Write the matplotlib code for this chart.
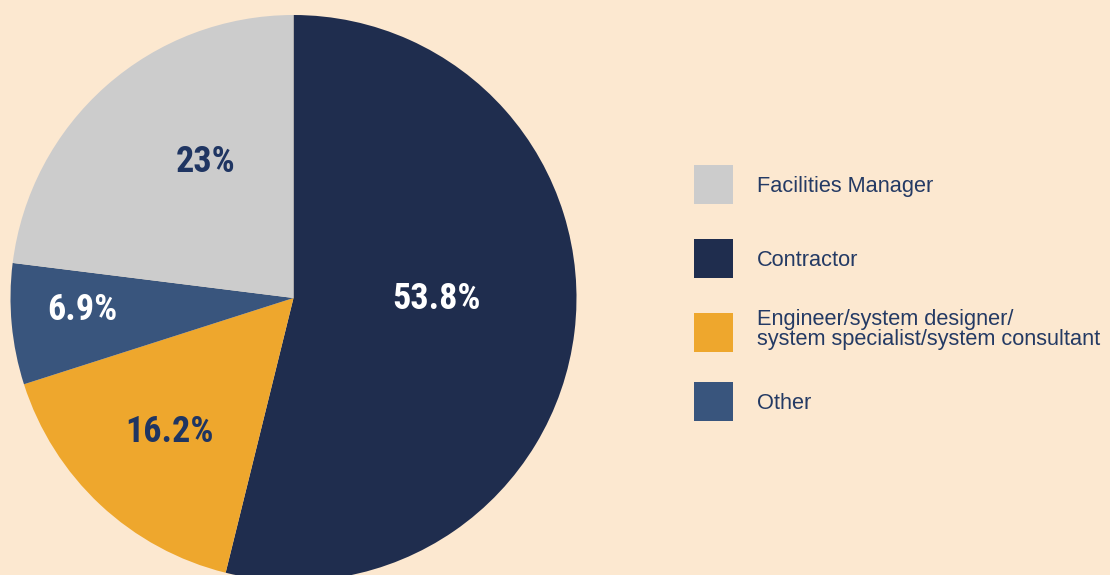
import matplotlib
matplotlib.use("Agg")
import matplotlib.pyplot as plt
from matplotlib.patches import Rectangle

# ---- data ----
pie_labels = ["Contractor", "Engineer/system designer/\nsystem specialist/system consultant", "Other", "Facilities Manager"]
pie_values = [53.8, 16.2, 6.9, 23.0]
pct_text = ["53.8%", "16.2%", "6.9%", "23%"]
legend_order = ["Facilities Manager", "Contractor",
                "Engineer/system designer/\nsystem specialist/system consultant", "Other"]

# ---- styles ----
BG = "#fce8d0"
colors = {"Contractor": "#1f2d4e",
          "Engineer/system designer/\nsystem specialist/system consultant": "#eea72d",
          "Other": "#39557d",
          "Facilities Manager": "#cccccc"}
pct_colors = ["white", "#1f3562", "white", "#1f3562"]
# label positions in units of the radius (layout)
pct_pos = [(0.504, -0.002), (-0.438, -0.475), (-0.745, -0.042), (-0.312, 0.481)]

W, H = 1110, 575
fig = plt.figure(figsize=(W / 100, H / 100), dpi=100, facecolor=BG)
cx, cy, r = 293.5, 298, 283
ax = fig.add_axes([(cx - r) / W, (H - cy - r) / H, 2 * r / W, 2 * r / H])
ax.set_facecolor(BG)
ax.pie(pie_values, colors=[colors[l] for l in pie_labels], startangle=90,
       counterclock=False, radius=1, wedgeprops=dict(linewidth=0))
ax.set_xlim(-1, 1)
ax.set_ylim(-1, 1)
ax.set_aspect("equal")
ax.axis("off")

cond = ["Liberation Sans Narrow", "Roboto Condensed", "DejaVu Sans"]
for t, c, (x, y) in zip(pct_text, pct_colors, pct_pos):
    ax.text(x, y, t, ha="center", va="center", fontsize=26, fontweight="bold",
            color=c, family=cond)

# ---- legend (manual) ----
sq_top = [165, 239, 313, 382]
sq_x, sq_size = 694, 39
txt_x = 757
txt_col = "#243a64"
for lab, top in zip(legend_order, sq_top):
    fig.add_artist(Rectangle((sq_x / W, 1 - (top + sq_size) / H), sq_size / W, sq_size / H,
                             transform=fig.transFigure, facecolor=colors[lab], edgecolor="none"))
    yc = top + sq_size / 2 + 2
    if "\n" in lab:
        yc -= 5
    fig.text(txt_x / W, 1 - yc / H, lab, ha="left", va="center", fontsize=15.7,
             color=txt_col, family=["Liberation Sans", "DejaVu Sans"], linespacing=1.0)

fig.savefig("out.png", dpi=100, facecolor=BG)
